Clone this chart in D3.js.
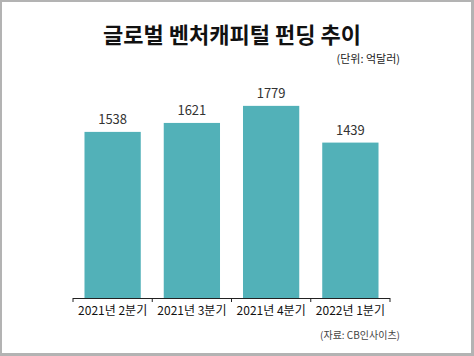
<!DOCTYPE html>
<html><head><meta charset="utf-8">
<script src="https://cdn.jsdelivr.net/npm/d3@7"></script>
<style>
html,body{margin:0;padding:0;background:#fff;}
svg{display:block;}
text{font-family:"Noto Sans CJK KR","Noto Sans",sans-serif;}
</style></head>
<body>
<svg id="c" width="474" height="356"></svg>
<script>
const categories = ["2021년 2분기","2021년 3분기","2021년 4분기","2022년 1분기"];
const values = [1538,1621,1779,1439];
const title = "글로벌 벤처캐피털 펀딩 추이";
const unitLabel = "(단위: 억달러)";
const sourceLabel = "(자료: CB인사이츠)";

const svg = d3.select("#c");
const W = 474, H = 356;
svg.append("rect").attr("x",0).attr("y",0).attr("width",W).attr("height",H).attr("fill","#b3b3b3");
svg.append("rect").attr("x",2).attr("y",2).attr("width",W-5).attr("height",H-5).attr("fill","#fff");

const x = d3.scaleBand().domain(categories).range([73,390]).paddingInner(0.29).paddingOuter(0.145);
const y = d3.scaleLinear().domain([0,2000]).range([298,82]);

svg.append("text").attr("x",232).attr("y",43).attr("text-anchor","middle")
  .attr("font-size",22).attr("font-weight","bold").attr("fill","#111").text(title);
svg.append("text").attr("x",400).attr("y",63).attr("text-anchor","end")
  .attr("font-size",11).attr("fill","#222").text(unitLabel);

svg.selectAll("rect.bar").data(values).enter().append("rect").attr("class","bar")
  .attr("x",(d,i)=>x(categories[i])).attr("width",x.bandwidth())
  .attr("y",d=>y(d)).attr("height",d=>y(0)-y(d)).attr("fill","#52b1b8");

svg.selectAll("text.val").data(values).enter().append("text").attr("class","val")
  .attr("x",(d,i)=>x(categories[i])+x.bandwidth()/2).attr("y",d=>y(d)-8)
  .attr("text-anchor","middle").attr("font-size",13).attr("fill","#333").text(d=>d);

const axis = svg.append("g").attr("transform","translate(0,298)")
  .call(d3.axisBottom(x).tickSize(0).tickPadding(8));
axis.select(".domain").remove();
axis.selectAll("text").attr("font-size",12).attr("fill","#111")
  .attr("font-family","\"Noto Sans CJK KR\",\"Noto Sans\",sans-serif");
const [r0,r1] = x.range();
svg.append("line").attr("x1",r0).attr("x2",r1).attr("y1",298.5).attr("y2",298.5)
  .attr("stroke","#222").attr("stroke-width",1.2);
const step = x.step();
const bounds = d3.range(categories.length+1).map(i=>r0 + i*(r1-r0)/categories.length);
svg.selectAll("line.tk").data(bounds).enter().append("line").attr("class","tk")
  .attr("x1",d=>d).attr("x2",d=>d).attr("y1",298).attr("y2",302)
  .attr("stroke","#222").attr("stroke-width",1);

svg.append("text").attr("x",400).attr("y",339).attr("text-anchor","end")
  .attr("font-size",10).attr("fill","#444").text(sourceLabel);
</script>
</body></html>
